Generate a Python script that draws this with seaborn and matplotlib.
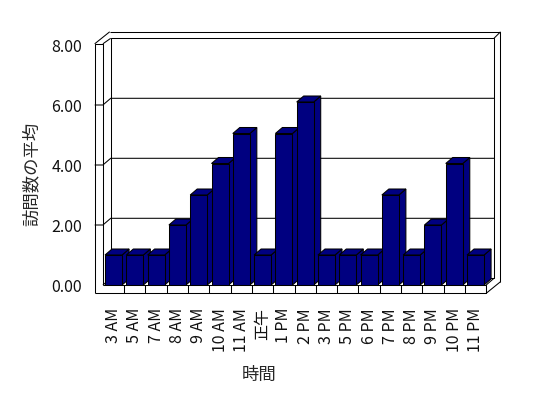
import matplotlib
matplotlib.use('Agg')
import numpy as np
import pandas as pd
import matplotlib.pyplot as plt
import seaborn as sns
from matplotlib.patches import Polygon

# data
hours = ['3 AM', '5 AM', '7 AM', '8 AM', '9 AM', '10 AM', '11 AM', '正午', '1 PM',
         '2 PM', '3 PM', '5 PM', '6 PM', '7 PM', '8 PM', '9 PM', '10 PM', '11 PM']
visits = [1.0, 1.0, 1.0, 2.0, 3.0, 4.05, 5.05, 1.0, 5.05,
          6.1, 1.0, 1.0, 1.0, 3.0, 1.0, 2.0, 4.05, 1.0]
y_ticks = [0, 2, 4, 6, 8]

sns.set_style('white')
plt.rcParams['font.family'] = ['Noto Sans CJK JP', 'DejaVu Sans']

W, H, DPI = 548, 398, 100
fig = plt.figure(figsize=(W / DPI, H / DPI), dpi=DPI)
ax = fig.add_axes([102.9 / W, (H - 285) / H, 383.3 / W, 240 / H])

df = pd.DataFrame({'hour': hours, 'visits': visits})
sns.barplot(data=df, x='hour', y='visits', color='#000080', saturation=1,
            width=0.8, edgecolor='black', linewidth=0.75, errorbar=None, ax=ax)
ax.set_xlim(-0.5, len(hours) - 0.5)
ax.set_ylim(0, 8)
for s in ax.spines.values():
    s.set_visible(False)

# pixels per data unit, to place the fake 3d depth
sx = 383.3 / len(hours)
sy = 240 / 8.0


def off(dx, dy):
    return dx / sx, -dy / sy


lw = 0.75
xl, xr = -0.5, len(hours) - 0.5
wdx, wdy = off(7.8, -6.7)      # back wall depth
bdx, bdy = off(7.0, -6.0)      # bar depth
xo = xl - 8.2 / sx             # outer edge of left wall
fb = -8.3 / sy                 # bottom of floor slab
top = 8.04
otop = 8 + wdy + 6.5 / sy
oright = xr + wdx + 6.5 / sx
oleft = xl + 6.8 / sx


def line(pts, z=1):
    pts = np.array(pts)
    ax.plot(pts[:, 0], pts[:, 1], color='black', lw=lw, clip_on=False,
            zorder=z, solid_capstyle='butt')


# back wall
line([(xl + wdx, wdy), (xl + wdx, 8 + wdy), (xr + wdx, 8 + wdy), (xr + wdx, wdy), (xl + wdx, wdy)])
line([(oleft, otop), (oright, otop), (oright, 0.11)])
line([(xr + wdx, 8 + wdy), (oright, otop)])
# left wall
line([(xo, fb), (xo, top), (xl, top), (xl, 0)])
line([(xo, top), (oleft, otop)])
line([(xl, top), (xl + wdx, 8 + wdy)])
line([(xl, 0), (xl + wdx, wdy)])
# floor slab
line([(xo, fb), (xr, fb), (xr, 0), (xl, 0)], z=2)
line([(xr, 0), (xr + wdx, wdy)], z=2)
line([(xr, fb), (oright, 0.11)], z=2)
for k in range(len(hours) - 1):
    line([(k + 0.5, fb), (k + 0.5, 0)], z=2)
# ticks on the wall and gridlines on the back wall
for v in y_ticks[1:-1]:
    line([(xo, v), (xl, v), (xl + wdx, v + wdy), (xr + wdx, v + wdy)])

# top and side faces of the bars
for k, p in enumerate(ax.patches):
    x0, w, h = p.get_x(), p.get_width(), p.get_height()
    z = 3 + k * 0.1
    p.set_zorder(z + 0.05)
    side = [(x0 + w, 0), (x0 + w + bdx, bdy), (x0 + w + bdx, h + bdy), (x0 + w, h)]
    roof = [(x0, h), (x0 + bdx, h + bdy), (x0 + w + bdx, h + bdy), (x0 + w, h)]
    for pts in (side, roof):
        ax.add_patch(Polygon(pts, closed=True, facecolor='#000080', edgecolor='black',
                             lw=lw, clip_on=False, zorder=z))

ax.set_yticks(y_ticks)
ax.set_yticklabels(['{:.2f}'.format(v) for v in y_ticks])
ax.tick_params(axis='y', length=0, pad=15.0, labelsize=11.5, labelcolor='#111111')
ax.tick_params(axis='x', length=0, pad=16.5, labelsize=11.5, labelcolor='#111111')
plt.setp(ax.get_xticklabels(), rotation=90)
ax.set_xlabel('')
ax.set_ylabel('')

fig.text(259 / W, 1 - 375 / H, '時間', ha='center', va='center', fontsize=12.5)
fig.text(31.7 / W, 1 - 173.5 / H, '訪問数の平均', ha='center', va='center',
         rotation=90, fontsize=12.5)

fig.savefig('out.png', dpi=DPI, facecolor='white')
